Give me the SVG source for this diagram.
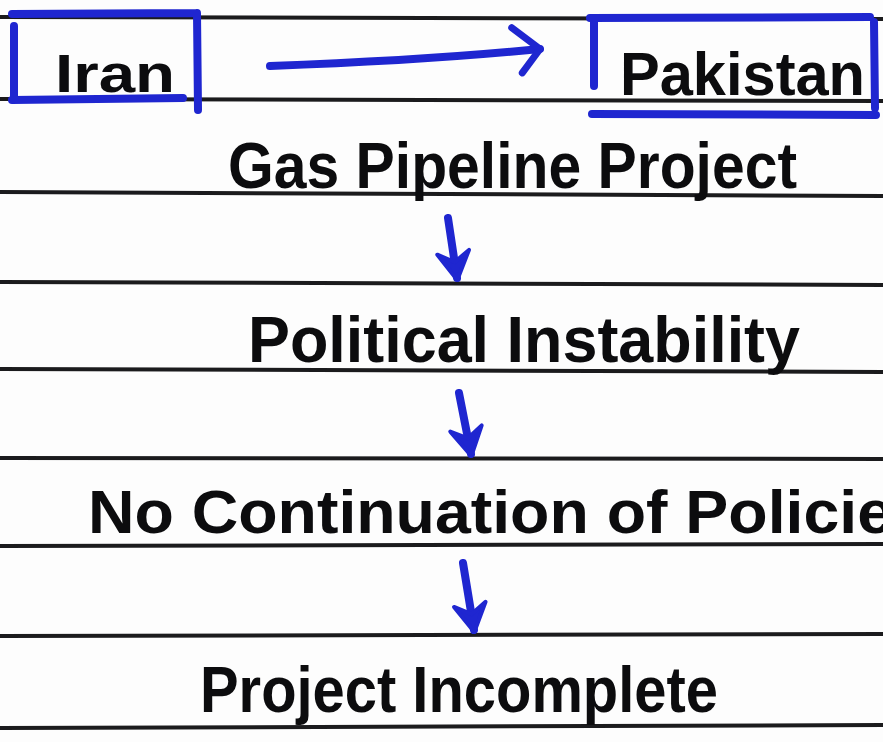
<svg xmlns="http://www.w3.org/2000/svg" width="883" height="742" viewBox="0 0 883 742">
<defs>
<style>
.rule{fill:none;stroke:#1b1b1d;stroke-width:4;stroke-linecap:round}
.box{fill:none;stroke:#1f26d0;stroke-width:8;stroke-linecap:round;stroke-linejoin:round}
.conn{fill:none;stroke:#1f26d0;stroke-width:8;stroke-linecap:round}
.t{font-family:"Liberation Sans","DejaVu Sans",sans-serif;font-weight:bold;fill:#0c0c0e}
</style>
<marker id="ah" viewBox="-34 -22 40 44" markerWidth="40" markerHeight="44" refX="0" refY="0" orient="auto" markerUnits="userSpaceOnUse">
<path d="M-26,-16 L2,0 L-26,16 L-16,0 Z" fill="#1f26d0" stroke="#1f26d0" stroke-width="4" stroke-linejoin="round"/>
</marker>
<marker id="ahr" viewBox="-34 -30 40 60" markerWidth="40" markerHeight="60" refX="0" refY="0" orient="auto" markerUnits="userSpaceOnUse">
<path d="M-26,-24 L0,0 L-20,22" fill="none" stroke="#1f26d0" stroke-width="7" stroke-linecap="round" stroke-linejoin="round"/>
</marker>
</defs>
<rect width="883" height="742" fill="#fdfdfd"/>
<g id="ruled-lines">
<path class="rule" d="M0,17 C300,16 600,17 883,19"/>
<path class="rule" d="M0,99 C300,99 600,100 883,101"/>
<path class="rule" d="M0,192 C300,192 600,194 883,196"/>
<path class="rule" d="M0,282 C300,282 600,283 883,285"/>
<path class="rule" d="M0,369 C300,369 600,370 883,372"/>
<path class="rule" d="M0,458 C300,457 600,458 883,459"/>
<path class="rule" d="M0,546 C300,545 600,544 883,544"/>
<path class="rule" d="M0,636 C300,635 600,634 883,634"/>
<path class="rule" d="M0,728 C300,727 600,726 883,725"/>
</g>
<g id="connectors">
<path class="conn" d="M270,66 C380,62 470,56 540,49" marker-end="url(#ahr)"/>
<path class="conn" d="M448,218 L457,278" marker-end="url(#ah)"/>
<path class="conn" d="M459,393 L471,454" marker-end="url(#ah)"/>
<path class="conn" d="M463,563 L474,630" marker-end="url(#ah)"/>
</g>
<g id="iran">
<path class="box" d="M12,14 L197,13 M197,13 L198,110 M14,26 L14,100 M12,100 L183,98"/>
<text class="t" x="55" y="92" font-size="54" textLength="120" lengthAdjust="spacingAndGlyphs">Iran</text>
</g>
<g id="pakistan">
<path class="box" d="M590,18 L870,17 M594,20 L594,86 M874,22 L875,108 M592,114 L876,115"/>
<text class="t" x="620" y="95" font-size="62" textLength="245" lengthAdjust="spacingAndGlyphs">Pakistan</text>
</g>
<g id="gas-pipeline-project">
<text class="t" x="228" y="188" font-size="64" textLength="569" lengthAdjust="spacingAndGlyphs">Gas Pipeline Project</text>
</g>
<g id="political-instability">
<text class="t" x="248" y="362" font-size="64" textLength="552" lengthAdjust="spacingAndGlyphs">Political Instability</text>
</g>
<g id="no-continuation">
<text class="t" x="88" y="533" font-size="62" textLength="805" lengthAdjust="spacingAndGlyphs">No Continuation of Policie</text>
</g>
<g id="project-incomplete">
<text class="t" x="200" y="712" font-size="64" textLength="518" lengthAdjust="spacingAndGlyphs">Project Incomplete</text>
</g>
</svg>
